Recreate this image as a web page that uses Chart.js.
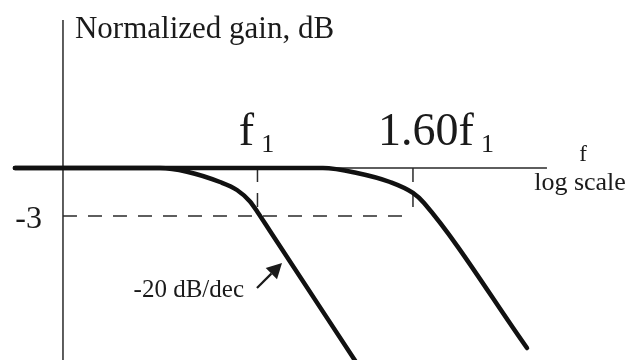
<!DOCTYPE html>
<html>
<head>
<meta charset="utf-8">
<script src="https://cdn.jsdelivr.net/npm/chart.js@4"></script>
<style>
  html, body { margin: 0; padding: 0; background: #fff; }
  canvas { display: block; }
</style>
</head>
<body>
<canvas id="gainChart" width="630" height="360"></canvas>
<script>
// frequency as a multiple of f1 (log axis), gain in dB
const lowCurveFreq = [0.4804, 0.7449, 0.8081, 0.8929, 0.9399, 0.9776, 1.0, 1.0385, 1.3469];
const lowCurveGain = [0, 0, -0.23, -0.875, -1.375, -2.09, -2.75, -3.94, -12.125];

const highCurveFreq = [0.4804, 1.2187, 1.3510, 1.4925, 1.6, 1.6544, 2.2586];
const highCurveGain = [0, 0, -0.31, -0.875, -1.56, -2.19, -11.25];

const xTickValues = [1, 1.6];
const xTickLabels = ["f", "1.60f"];
const xTickSubs = ["1", "1"];
const yTickValues = [-3];
const yTickLabels = ["-3"];

const axisFreq = 0.5555;     // gain axis sits here
const axisEndFreq = 2.399;   // end of the frequency axis
const axisTopGain = 9.25;

// "-20 dB/dec" pointer, tail -> head
const slopeArrowFreq = [0.9985, 1.0769];
const slopeArrowGain = [-7.5, -5.94];

const SERIF = '"Liberation Serif", "Times New Roman", serif';

function toPoints(xs, ys) {
  return xs.map((v, i) => ({ x: v, y: ys[i] }));
}

const diagram = {
  id: "diagram",
  beforeDatasetsDraw(chart) {
    const { ctx, scales: { x, y } } = chart;
    const x0 = x.getPixelForValue(axisFreq);
    const y0 = y.getPixelForValue(0);
    ctx.save();
    ctx.strokeStyle = "#2a2a2a";
    ctx.lineWidth = 1.5;
    ctx.beginPath();
    ctx.moveTo(x0, y.getPixelForValue(axisTopGain));
    ctx.lineTo(x0, chart.height);
    ctx.moveTo(x0, y0);
    ctx.lineTo(x.getPixelForValue(axisEndFreq), y0);
    ctx.stroke();

    // -3 dB guide lines
    const y3 = y.getPixelForValue(yTickValues[0]);
    ctx.setLineDash([14, 11]);
    ctx.beginPath();
    ctx.moveTo(x0, y3);
    ctx.lineTo(x.getPixelForValue(xTickValues[1]), y3);
    xTickValues.forEach(v => {
      const px = x.getPixelForValue(v);
      ctx.moveTo(px, y0);
      ctx.lineTo(px, y3);
    });
    ctx.stroke();
    ctx.restore();
  },
  afterDatasetsDraw(chart) {
    const { ctx, scales: { x, y } } = chart;
    const x0 = x.getPixelForValue(axisFreq);
    ctx.save();
    ctx.fillStyle = "#1a1a1a";
    ctx.textBaseline = "alphabetic";

    ctx.font = "31px " + SERIF;
    ctx.textAlign = "left";
    ctx.fillText("Normalized gain, dB", x0 + 12, 38);

    // frequency tick labels with subscript
    const shift = [-1, 23];
    xTickValues.forEach((v, i) => {
      ctx.font = "46px " + SERIF;
      const mainW = ctx.measureText(xTickLabels[i]).width;
      ctx.font = "26px " + SERIF;
      const subW = ctx.measureText(xTickSubs[i]).width;
      const gap = 7;
      const left = x.getPixelForValue(v) + shift[i] - (mainW + gap + subW) / 2;
      ctx.textAlign = "left";
      ctx.font = "46px " + SERIF;
      ctx.fillText(xTickLabels[i], left, 145);
      ctx.font = "26px " + SERIF;
      ctx.fillText(xTickSubs[i], left + mainW + gap, 152);
    });

    ctx.font = "32px " + SERIF;
    ctx.textAlign = "right";
    yTickValues.forEach((v, i) => {
      ctx.fillText(yTickLabels[i], x0 - 21, y.getPixelForValue(v) + 12);
    });

    ctx.textAlign = "center";
    ctx.font = "23px " + SERIF;
    ctx.fillText("f", 583, 161);
    ctx.font = "26px " + SERIF;
    ctx.fillText("log scale", 580, 190);

    // slope note and arrow
    const tx = x.getPixelForValue(slopeArrowFreq[0]);
    const ty = y.getPixelForValue(slopeArrowGain[0]);
    const hx = x.getPixelForValue(slopeArrowFreq[1]);
    const hy = y.getPixelForValue(slopeArrowGain[1]);
    ctx.font = "25px " + SERIF;
    ctx.textAlign = "right";
    ctx.fillText("-20 dB/dec", tx - 13, ty + 9);

    const ang = Math.atan2(hy - ty, hx - tx);
    const headLen = 15, headW = 8;
    const bx = hx - headLen * Math.cos(ang), by = hy - headLen * Math.sin(ang);
    ctx.strokeStyle = "#1a1a1a";
    ctx.lineWidth = 2.2;
    ctx.beginPath();
    ctx.moveTo(tx, ty);
    ctx.lineTo(bx, by);
    ctx.stroke();
    ctx.beginPath();
    ctx.moveTo(hx, hy);
    ctx.lineTo(bx + headW * Math.sin(ang), by - headW * Math.cos(ang));
    ctx.lineTo(bx - headW * Math.sin(ang), by + headW * Math.cos(ang));
    ctx.closePath();
    ctx.fill();
    ctx.restore();
  }
};

const curveStyle = {
  borderColor: "#111",
  borderWidth: 4.5,
  pointRadius: 0,
  fill: false,
  cubicInterpolationMode: "monotone",
  borderCapStyle: "round",
  borderJoinStyle: "round"
};

new Chart(document.getElementById("gainChart"), {
  type: "line",
  data: {
    datasets: [
      Object.assign({ label: "f1", data: toPoints(lowCurveFreq, lowCurveGain) }, curveStyle),
      Object.assign({ label: "1.60f1", data: toPoints(highCurveFreq, highCurveGain) }, curveStyle)
    ]
  },
  options: {
    responsive: false,
    animation: false,
    devicePixelRatio: 1,
    events: [],
    layout: { padding: 0 },
    plugins: { legend: { display: false }, tooltip: { enabled: false } },
    scales: {
      x: { type: "logarithmic", min: 0.4592, max: 3.0834, display: false },
      y: { type: "linear", min: -12, max: 10.5, display: false }
    }
  },
  plugins: [diagram]
});
</script>
</body>
</html>
